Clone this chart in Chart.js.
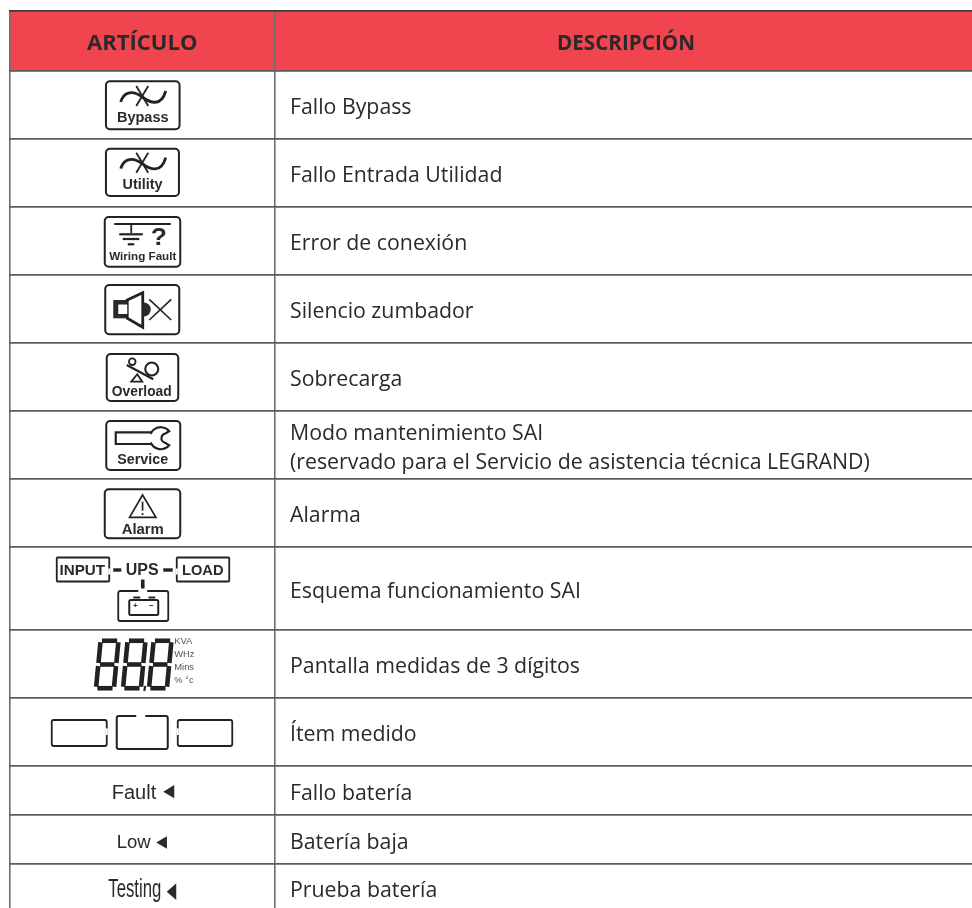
<!DOCTYPE html>
<html>
<head>
<meta charset="utf-8">
<title>Artículo / Descripción</title>
<script src="https://cdn.jsdelivr.net/npm/chart.js@4/dist/chart.umd.min.js"></script>
<style>
html, body { margin: 0; padding: 0; background: #fff; }
canvas { display: block; }
</style>
</head>
<body>
<canvas id="canvas" width="972" height="908"></canvas>
<script>
const headers = ['ARTÍCULO', 'DESCRIPCIÓN'];
const descriptions = [
    ['Fallo Bypass'],
    ['Fallo Entrada Utilidad'],
    ['Error de conexión'],
    ['Silencio zumbador'],
    ['Sobrecarga'],
    ['Modo mantenimiento SAI', '(reservado para el Servicio de asistencia técnica LEGRAND)'],
    ['Alarma'],
    ['Esquema funcionamiento SAI'],
    ['Pantalla medidas de 3 dígitos'],
    ['Ítem medido'],
    ['Fallo batería'],
    ['Batería baja'],
    ['Prueba batería']
];
const iconLabels = ['Bypass', 'Utility', 'Wiring Fault', '', 'Overload', 'Service', 'Alarm',
    'UPS', '888', '', 'Fault', 'Low', 'Testing'];
const unitLabels = ['KVA', 'WHz', 'Mins', '% °c'];
const diagramLabels = ['INPUT', 'UPS', 'LOAD'];

// table geometry, read on the y and x scales
const rowEdges = [11, 71, 139, 207, 275, 343, 411, 479, 547, 630, 698, 766, 815, 864, 912];
const colEdges = [10, 274.5, 972];

const RED = '#f0444f';
const INK = '#2b2a2a';
const SANS = '"Liberation Sans"';

const rowMid = i => (rowEdges[i] + rowEdges[i + 1]) / 2;

function label(c, text, x, y, font, sx) {
    c.save();
    c.font = font;
    c.textAlign = 'center';
    c.textBaseline = 'middle';
    c.translate(x, y + 1.2);
    if (sx) c.scale(sx, 1);
    c.fillText(text, 0, 0);
    c.restore();
}

function line(c, x1, y1, x2, y2, w) {
    c.lineWidth = w;
    c.beginPath();
    c.moveTo(x1, y1);
    c.lineTo(x2, y2);
    c.stroke();
}

function box(c, x1, y1, x2, y2, r, w) {
    c.lineWidth = w;
    c.beginPath();
    c.roundRect(x1, y1, x2 - x1, y2 - y1, r);
    c.stroke();
}

function gap(c, x, y, w, h) {
    c.save();
    c.fillStyle = '#fff';
    c.fillRect(x, y, w, h);
    c.restore();
}

function wave(c) {
    c.lineWidth = 2.8;
    c.beginPath();
    c.moveTo(-21.5, -3);
    c.bezierCurveTo(-19, -12, -11, -16, 0, -8);
    c.bezierCurveTo(8, -2, 19, 2, 23.5, -14);
    c.stroke();
    line(c, -6, -19, 6, 1, 1.8);
    line(c, 6, -19, -6, 1, 1.8);
}

function marker(c, tip, right, top, bottom) {
    c.beginPath();
    c.moveTo(tip, (top + bottom) / 2);
    c.lineTo(right, top);
    c.lineTo(right, bottom);
    c.closePath();
    c.fill();
}

function digit(c, x0, y0, w, h, slant) {
    const p = (u, v) => [x0 + u * w + (1 - v) * slant, y0 + v * h];
    const segs = [
        [0.1, 0.04, 0.9, 0.04], [0.12, 0.5, 0.88, 0.5], [0.1, 0.96, 0.9, 0.96],
        [0.03, 0.07, 0.03, 0.47], [0.97, 0.07, 0.97, 0.47],
        [0.03, 0.53, 0.03, 0.93], [0.97, 0.53, 0.97, 0.93]
    ];
    c.lineCap = 'butt';
    segs.forEach(s => {
        const a = p(s[0], s[1]);
        const b = p(s[2], s[3]);
        line(c, a[0], a[1], b[0], b[1], 4.6);
    });
}

// one painter per row, drawn around the centre of the first column
const icons = [
    (c, t) => {
        box(c, -36.3, -23.7, 37.3, 24.3, 4, 2);
        wave(c);
        label(c, t, 0.5, 12, 'bold 14.5px ' + SANS);
    },
    (c, t) => {
        box(c, -36.3, -24.3, 36.7, 23, 4, 2);
        c.save();
        c.translate(0, -1.3);
        wave(c);
        c.restore();
        label(c, t, 0.3, 10.5, 'bold 14.4px ' + SANS);
    },
    (c, t) => {
        box(c, -37.5, -24, 38, 25.7, 4, 2);
        line(c, -28, -17, 28.5, -17, 1.8);
        line(c, -11, -17, -11, -8, 1.8);
        line(c, -23, -6.7, 0.5, -6.7, 2.2);
        line(c, -19.5, -2, -3, -2, 2.2);
        line(c, -14.5, 3.3, -8, 3.3, 2.2);
        label(c, '?', 16.5, -4, 'bold 23px ' + SANS, 1.15);
        label(c, t, 0.5, 15, 'bold 11.65px ' + SANS);
    },
    c => {
        box(c, -37, -24, 37, 25.3, 4, 2);
        c.fillRect(-29, -9, 14, 18.3);
        c.beginPath();
        c.arc(1.5, 0.5, 7, 0, Math.PI * 2);
        c.fill();
        c.lineWidth = 2.8;
        c.beginPath();
        c.moveTo(-15, -9);
        c.lineTo(0.5, -16.3);
        c.lineTo(0.5, 18.3);
        c.lineTo(-15, 9.3);
        c.closePath();
        c.save();
        c.fillStyle = '#fff';
        c.fill();
        c.restore();
        c.stroke();
        gap(c, -24, -4.5, 9, 9.5);
        line(c, 7, -9.7, 29, 11, 1.6);
        line(c, 29, -9.7, 7, 11, 1.6);
    },
    (c, t) => {
        box(c, -35.5, -23, 36, 24, 4, 2);
        c.lineWidth = 1.8;
        c.beginPath();
        c.arc(-10, -15.3, 3.3, 0, Math.PI * 2);
        c.stroke();
        line(c, -15.5, -12, 11, 2.3, 2.2);
        c.lineWidth = 2.1;
        c.beginPath();
        c.arc(9.5, -8, 6.5, 0, Math.PI * 2);
        c.stroke();
        c.lineWidth = 1.8;
        c.beginPath();
        c.moveTo(-5, -2.7);
        c.lineTo(-11, 4.7);
        c.lineTo(0, 4.7);
        c.closePath();
        c.stroke();
        label(c, t, -0.5, 14.3, 'bold 13.8px ' + SANS);
    },
    (c, t) => {
        box(c, -36, -24, 38, 25, 4, 2);
        const a = Math.PI / 180;
        c.lineWidth = 2.2;
        c.beginPath();
        c.moveTo(8, -12.7);
        c.lineTo(-26.5, -12.7);
        c.lineTo(-26.5, -1);
        c.lineTo(8, -1);
        c.arc(18.5, -6.8, 11, 151 * a, 40 * a, true);
        c.arc(24, -6.8, 4.8, 100 * a, 260 * a);
        c.arc(18.5, -6.8, 11, -40 * a, -151 * a, true);
        c.closePath();
        c.stroke();
        label(c, t, 0.5, 14, 'bold 14.3px ' + SANS);
    },
    (c, t) => {
        box(c, -37.5, -23.7, 38, 25.3, 4, 2);
        c.lineWidth = 1.7;
        c.beginPath();
        c.moveTo(0.3, -18);
        c.lineTo(-12.7, 4.3);
        c.lineTo(13.7, 4.3);
        c.closePath();
        c.stroke();
        line(c, 0.3, -11.3, 0.3, -2.3, 1.7);
        line(c, 0.3, 0.2, 0.3, 2, 1.8);
        label(c, t, 0.5, 15.5, 'bold 14.9px ' + SANS);
    },
    c => {
        box(c, -85.5, -31, -33, -7, 1, 1.8);
        gap(c, -34, -20, 2, 6);
        box(c, 34.5, -31, 87, -7, 1, 1.8);
        gap(c, 33.5, -20, 2, 6);
        label(c, diagramLabels[0], -60, -19, 'bold 15.2px ' + SANS);
        label(c, diagramLabels[1], 0, -19, 'bold 16px ' + SANS);
        label(c, diagramLabels[2], 60.5, -19, 'bold 14.6px ' + SANS);
        line(c, -29, -18.5, -21, -18.5, 3.4);
        line(c, 21, -18.5, 30.5, -18.5, 3.4);
        line(c, 0.5, -9, 0.5, 0, 3.6);
        box(c, -24, 2.5, 26, 32.5, 2, 1.8);
        gap(c, -4, 1.5, 9, 2);
        box(c, -13, 11.5, 16, 26.5, 1.5, 2);
        line(c, -9, 9, -2, 9, 2);
        line(c, 6.3, 9, 13, 9, 2);
        label(c, '+', -7, 16, 'bold 8px ' + SANS);
        label(c, '−', 9, 16, 'bold 8px ' + SANS);
    },
    c => {
        digit(c, -47, -25.3, 19, 51.6, 5);
        digit(c, -20, -25.3, 19, 51.6, 5);
        digit(c, 6, -25.3, 19, 51.6, 5);
        line(c, 3, 22, 2, 27, 2.2);
        c.save();
        c.fillStyle = '#555';
        unitLabels.forEach((u, i) => {
            c.font = '9.4px ' + SANS;
            c.textBaseline = 'middle';
            c.fillText(u, 32, -22.3 + i * 12.8);
        });
        c.restore();
    },
    c => {
        box(c, -90.5, -12, -35.5, 14, 2, 1.8);
        gap(c, -36.5, -3.7, 2, 6.7);
        box(c, -25.5, -16, 25.5, 17, 2, 2);
        gap(c, -6, -17, 9, 2);
        box(c, 35.5, -12, 90, 14, 2, 1.8);
        gap(c, 34.5, -3.7, 2, 6.7);
    },
    (c, t) => {
        c.font = '20px ' + SANS;
        c.fillText(t, -30.5, 8.5);
        marker(c, 21, 32, -5.5, 7.8);
    },
    (c, t) => {
        c.font = '18.5px ' + SANS;
        c.fillText(t, -25.5, 8.3);
        marker(c, 14, 24.7, -3.3, 9.3);
    },
    (c, t) => {
        c.save();
        c.font = '25px ' + SANS;
        c.translate(-34, 8.7);
        c.scale(0.67, 1);
        c.fillText(t, 0, 0);
        c.restore();
        marker(c, 24.5, 34, -4.7, 12);
    }
];

const tablePlugin = {
    id: 'table',
    afterDraw: (chart) => {
        const c = chart.ctx;
        const xs = chart.scales.x;
        const ys = chart.scales.y;
        const col1 = xs.getPixelForValue((colEdges[0] + colEdges[1]) / 2);
        const textX = xs.getPixelForValue(colEdges[1]) + 15.5;
        const headY = ys.getPixelForValue(rowMid(0)) + 9;

        c.save();
        c.fillStyle = INK;
        c.textBaseline = 'alphabetic';
        c.textAlign = 'center';
        c.font = 'bold 22px "Open Sans"';
        c.fillText(headers[0], col1, headY);
        c.fillText(headers[1], xs.getPixelForValue(626), headY, 138);

        c.textAlign = 'left';
        c.font = '21.3px "Open Sans"';
        descriptions.forEach((lines, i) => {
            const mid = ys.getPixelForValue(rowMid(i + 1));
            lines.forEach((text, k) => {
                const base = lines.length > 1 ? mid - 5 + k * 29.3 : mid + 9;
                c.fillText(text, textX, base);
            });
        });

        icons.forEach((draw, i) => {
            c.save();
            c.translate(col1, ys.getPixelForValue(rowMid(i + 1)));
            c.strokeStyle = '#222';
            c.fillStyle = '#2a2a2a';
            c.textAlign = 'left';
            c.textBaseline = 'alphabetic';
            draw(c, iconLabels[i]);
            c.restore();
        });
        c.restore();
    }
};

new Chart(document.getElementById('canvas'), {
    type: 'bar',
    data: {
        datasets: [{
            data: [{ x: [colEdges[0], colEdges[2]], y: rowMid(0) }],
            backgroundColor: RED,
            barThickness: rowEdges[1] - rowEdges[0],
            borderWidth: 0
        }]
    },
    options: {
        indexAxis: 'y',
        responsive: false,
        animation: false,
        layout: { padding: { left: 9, top: 10, right: 0, bottom: 0 } },
        plugins: { legend: { display: false }, tooltip: { enabled: false }, title: { display: false } },
        scales: {
            x: {
                type: 'linear',
                min: 9,
                max: 972,
                border: { display: false },
                ticks: { display: false },
                afterBuildTicks: axis => { axis.ticks = colEdges.slice(0, 2).map(value => ({ value })); },
                grid: { z: 1, color: '#6e6e6e', lineWidth: 1.6, drawTicks: false }
            },
            y: {
                type: 'linear',
                reverse: true,
                offset: false,
                min: 10,
                max: 908,
                border: { display: false },
                ticks: { display: false },
                afterBuildTicks: axis => { axis.ticks = rowEdges.slice(0, -1).map(value => ({ value })); },
                grid: {
                    z: 1,
                    offset: false,
                    color: ctx => ctx.index === 0 ? '#3c3c3c' : '#5c5c5c',
                    lineWidth: 1.8,
                    drawTicks: false
                }
            }
        }
    },
    plugins: [tablePlugin]
});
</script>
</body>
</html>
